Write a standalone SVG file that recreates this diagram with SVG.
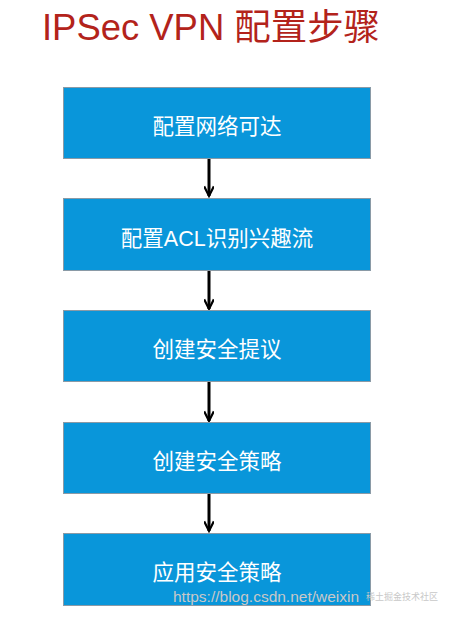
<svg xmlns="http://www.w3.org/2000/svg" width="455" height="619" viewBox="0 0 455 619">
<defs>
<style>
.box{fill:#0996da;stroke:#8a9aa6;stroke-width:1}
.lbl{font-family:"Liberation Sans","Noto Sans CJK SC",sans-serif;font-size:21.5px;fill:#ffffff;text-anchor:middle}
.title{font-family:"Liberation Sans","Noto Sans CJK SC",sans-serif;font-size:36px;fill:#b3231b}
.conn{stroke:#000;stroke-width:3;fill:none;marker-end:url(#ah)}
.wm{font-family:"Liberation Sans","Noto Sans CJK SC",sans-serif;fill:#c8c8c8}
</style>
<marker id="ah" viewBox="0 0 12 10" refX="10" refY="5" markerWidth="4.3" markerHeight="3.6" orient="auto" markerUnits="strokeWidth">
<path d="M1,0.5 L10,5 L1,9.5" fill="none" stroke="#000" stroke-width="2"/>
</marker>
</defs>
<rect width="455" height="619" fill="#ffffff"/>
<text id="title" class="title" x="42" y="40" textLength="338" lengthAdjust="spacingAndGlyphs">IPSec VPN 配置步骤</text>
<g id="connectors">
<line class="conn" x1="209" y1="159" x2="209" y2="196"/>
<line class="conn" x1="209" y1="271" x2="209" y2="309"/>
<line class="conn" x1="209" y1="382" x2="209" y2="421"/>
<line class="conn" x1="209" y1="494" x2="209" y2="531"/>
</g>
<g id="n1"><rect class="box" x="63.5" y="87.5" width="307" height="71"/><text class="lbl" x="217" y="134">配置网络可达</text></g>
<g id="n2"><rect class="box" x="63.5" y="198.5" width="307" height="72"/><text class="lbl" x="217" y="246">配置ACL识别兴趣流</text></g>
<g id="n3"><rect class="box" x="63.5" y="310.5" width="307" height="71"/><text class="lbl" x="217" y="357">创建安全提议</text></g>
<g id="n4"><rect class="box" x="63.5" y="422.5" width="307" height="71"/><text class="lbl" x="217" y="469">创建安全策略</text></g>
<g id="n5"><rect class="box" x="63.5" y="533.5" width="307" height="72"/><text class="lbl" x="217" y="580">应用安全策略</text></g>
<text class="wm" x="173" y="602" font-size="15.5">https://blog.csdn.net/weixin</text>
<text class="wm" x="366" y="600" font-size="9">稀土掘金技术社区</text>
</svg>
